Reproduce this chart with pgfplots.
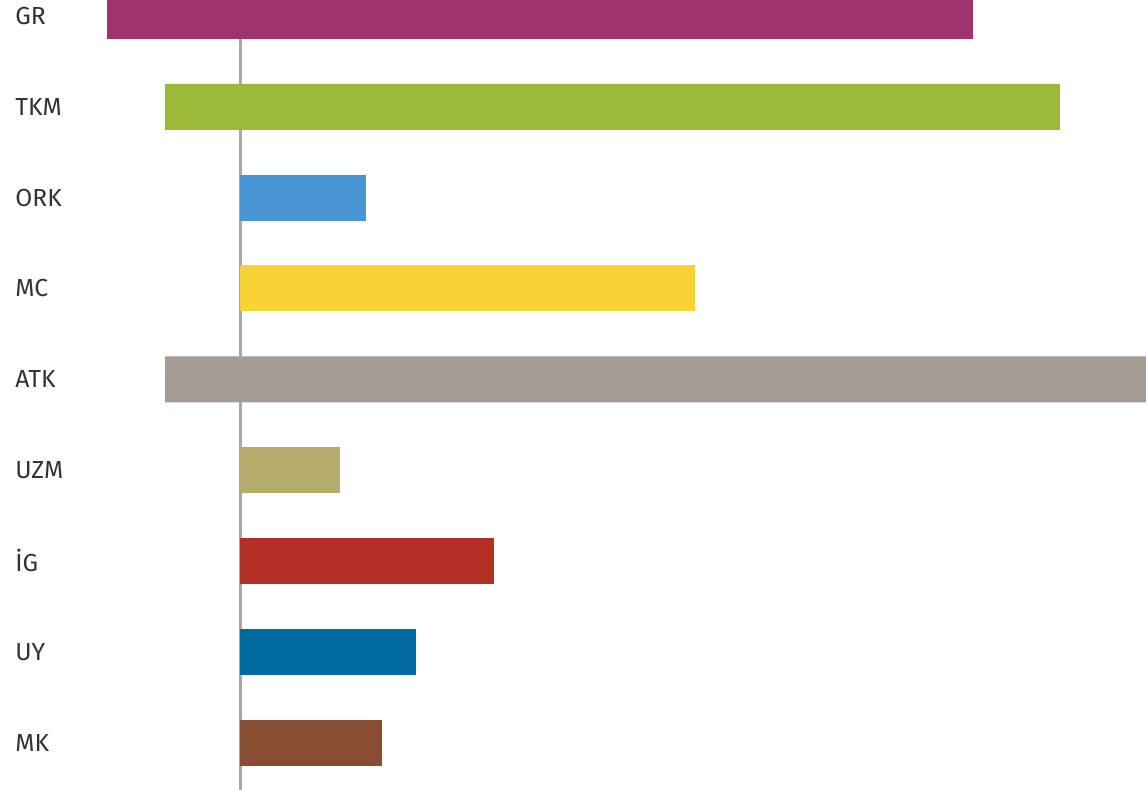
\documentclass[border=0pt]{standalone}
\usepackage{fontspec}
\setmainfont{Fira Sans}
\usepackage{pgfplots}
\pgfplotsset{compat=1.18}
\definecolor{cGR}{HTML}{A0336E}
\definecolor{cTKM}{HTML}{9CB93A}
\definecolor{cORK}{HTML}{4A96D4}
\definecolor{cMC}{HTML}{F9D236}
\definecolor{cATK}{HTML}{A49B95}
\definecolor{cUZM}{HTML}{B4AB6C}
\definecolor{cIG}{HTML}{B32E25}
\definecolor{cUY}{HTML}{006AA1}
\definecolor{cMK}{HTML}{874E34}
\definecolor{lab}{HTML}{333333}
\definecolor{axl}{HTML}{A8A8A8}
\begin{document}
\begin{tikzpicture}
\begin{axis}[
  scale only axis,
  width=859.5pt, height=592.5pt,
  xmin=-240, xmax=906,
  ymin=-0.176, ymax=8.52,
  y dir=reverse,
  xbar, bar width=34.5pt, bar shift=0pt,
  axis line style={draw=none},
  xtick=\empty,
  ytick={0,...,8},
  yticklabels={GR,TKM,ORK,MC,ATK,UZM,İG,UY,MK},
  major tick length=0pt,
  yticklabel style={anchor=west, inner sep=0pt, xshift=11.25pt, font=\fontsize{18.5}{20}\selectfont, text=lab},
  every axis plot/.append style={draw=none},
]
\draw[axl, line width=2.2pt] (axis cs:0,-0.176) -- (axis cs:0,8.52);
\addplot[fill=cGR] coordinates {(733,0) (-133,0)};
\addplot[fill=cTKM] coordinates {(820,1) (-75,1)};
\addplot[fill=cORK] coordinates {(126,2)};
\addplot[fill=cMC] coordinates {(455,3)};
\addplot[fill=cATK] coordinates {(930,4) (-75,4)};
\addplot[fill=cUZM] coordinates {(100,5)};
\addplot[fill=cIG] coordinates {(254,6)};
\addplot[fill=cUY] coordinates {(176,7)};
\addplot[fill=cMK] coordinates {(142,8)};
\end{axis}
\end{tikzpicture}
\end{document}
